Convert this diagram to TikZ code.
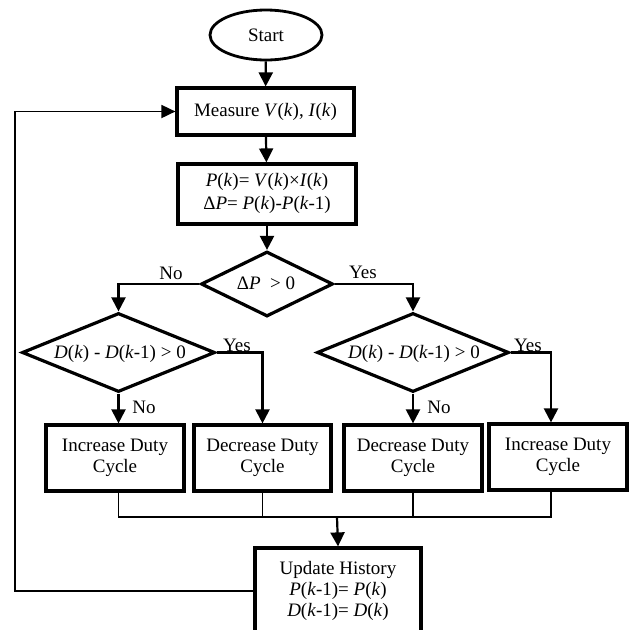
\documentclass[tikz,border=0pt]{standalone}
\usepackage{fontspec}
\setmainfont{Liberation Serif}
\usetikzlibrary{shapes.geometric,arrows.meta}
\begin{document}
\begin{tikzpicture}[x=1pt,y=-1pt,
  every node/.style={font=\fontsize{19}{21}\selectfont},
  boxnode/.style={draw, line width=3.2pt, rectangle, inner sep=0pt, align=center},
  dianode/.style={draw, line width=3.2pt, diamond, inner sep=0pt},
  conn/.style={line width=2.2pt, -{Triangle[length=14pt,width=14pt]}},
  thinline/.style={line width=1.4pt},
  lbl/.style={inner sep=0pt, align=center}
]
\useasboundingbox (0,0) rectangle (629,630);
% nodes
\node[draw, ellipse, line width=2.8pt, minimum width=112pt, minimum height=50pt, inner sep=0pt] (start) at (266,35) {Start};
\node[boxnode, minimum width=177pt, minimum height=47pt] (meas) at (265.5,111.5) {Measure \textit{V}(\textit{k}), \textit{I}(\textit{k})};
\node[boxnode, minimum width=178pt, minimum height=60pt] (calc) at (267,194) {};
\node[lbl, font=\fontsize{19}{22.5}\selectfont] (calct) at (267,193.5) {\textit{P}(\textit{k})= \textit{V}(\textit{k})×\textit{I}(\textit{k})\\Δ\textit{P}= \textit{P}(\textit{k})-\textit{P}(\textit{k}-1)};
\node[dianode, minimum width=132pt, minimum height=65pt] (d1) at (267,284) {};
\node[lbl] (t1) at (266,283) {Δ\textit{P}\ \ > 0};
\node[dianode, minimum width=193pt, minimum height=79pt] (d2) at (118.5,352.5) {};
\node[lbl] (t2) at (120,354) {\textit{D}(\textit{k}) - \textit{D}(\textit{k}-1) > 0};
\node[dianode, minimum width=192pt, minimum height=79pt] (d3) at (413,352.5) {};
\node[lbl] (t3) at (414,354) {\textit{D}(\textit{k}) - \textit{D}(\textit{k}-1) > 0};
\node[boxnode, minimum width=138pt, minimum height=66pt] (b1) at (115,458) {Increase Duty\\Cycle};
\node[boxnode, minimum width=137pt, minimum height=66pt] (b2) at (262.5,458) {Decrease Duty\\Cycle};
\node[boxnode, minimum width=138pt, minimum height=66pt] (b3) at (413,458) {Decrease Duty\\Cycle};
\node[boxnode, minimum width=138pt, minimum height=66pt] (b4) at (558,457) {Increase Duty\\Cycle};
\node[boxnode, minimum width=166pt, minimum height=112pt] (upd) at (338,604) {};
\node[lbl] (updt) at (338,590.5) {Update History\\\textit{P}(\textit{k}-1)= \textit{P}(\textit{k})\\\textit{D}(\textit{k}-1)= \textit{D}(\textit{k})};
% labels
\node[lbl] (no1) at (171,273) {No};
\node[lbl] (yes1) at (363,272) {Yes};
\node[lbl] (yes2) at (237,345) {Yes};
\node[lbl] (no2) at (144,407) {No};
\node[lbl] (yes3) at (528,345) {Yes};
\node[lbl] (no3) at (439,407) {No};
% coordinates
\coordinate (b4in) at ([xshift=-7pt]b4.north);
\coordinate (mrg) at (337,517);
\coordinate (lp) at (15,591);
% connectors
\draw[conn] (start) -- (meas);
\draw[conn] (meas) -- (calc);
\draw[conn] (calc) -- (d1);
\draw[conn] (d1.west) -| (d2.north);
\draw[conn] (d1.east) -| (d3.north);
\draw[conn] (d2.south) -- (d2.south |- b1.north);
\draw[conn] (d2.east) -| (b2.north);
\draw[conn] (d3.south) -- (d3.south |- b3.north);
\draw[conn] (d3.east) -| (b4in);
\draw[thinline] (d2.south |- b1.south) -- (d2.south |- mrg) -- (b4in |- mrg) -- (b4in |- b4.south);
\draw[thinline] (b2.south) -- (b2.south |- mrg);
\draw[thinline] (b3.south) -- (b3.south |- mrg);
\draw[conn] (mrg) -- (upd.north);
\draw[line width=1.8pt, -{Triangle[length=14pt,width=13pt]}] (upd.west |- lp) -- (lp) |- (meas.west);
\end{tikzpicture}
\end{document}
